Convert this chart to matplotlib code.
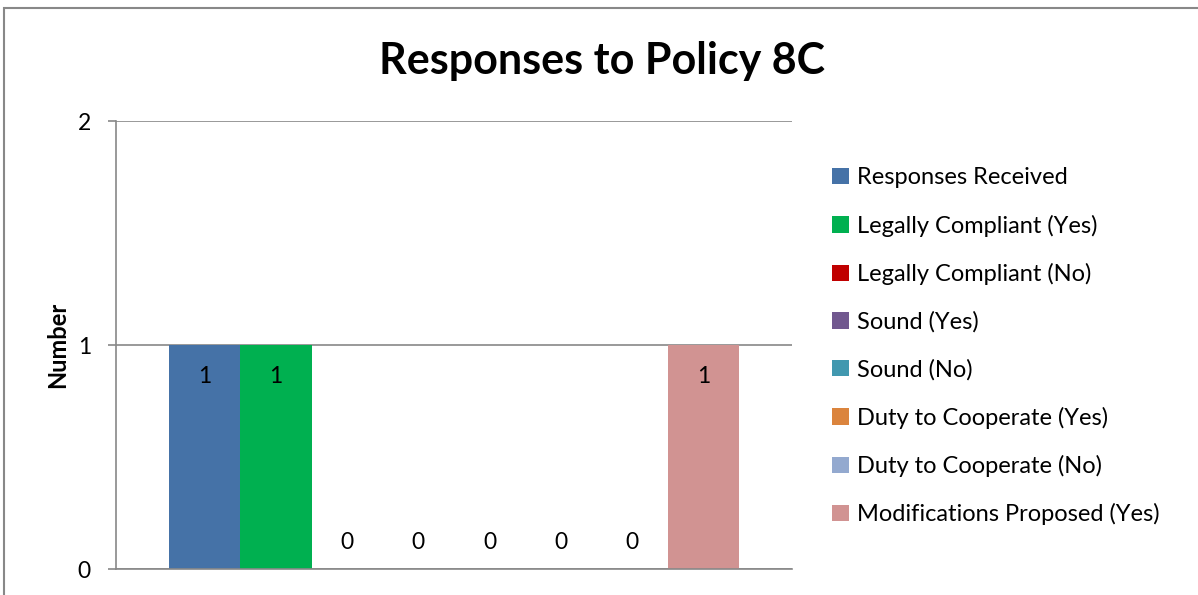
import matplotlib
matplotlib.use("Agg")
import matplotlib.pyplot as plt
from matplotlib.patches import Rectangle

series = ["Responses Received", "Legally Compliant (Yes)", "Legally Compliant (No)",
          "Sound (Yes)", "Sound (No)", "Duty to Cooperate (Yes)",
          "Duty to Cooperate (No)", "Modifications Proposed (Yes)"]
values = [1, 1, 0, 0, 0, 0, 0, 1]
colors = ["#4572A7", "#00B050", "#C00000", "#71588F", "#4198AF", "#DB843D", "#93A9CF", "#D19392"]
yticks = [0, 1, 2]

plt.rcParams['font.family'] = ['Lato', 'DejaVu Sans']

W, H = 1198, 595
fig = plt.figure(figsize=(W / 100, H / 100), dpi=100)
ax = fig.add_axes([116 / W, 1 - 569 / H, (792 - 116) / W, (569 - 121) / H])

n = len(values)
group = 570 / 676
bw = group / n
start = -group / 2
for i, (s, v, c) in enumerate(zip(series, values, colors)):
    x = start + bw * (i + 0.5)
    ax.bar(x, v, width=bw, color=c, label=s, zorder=2)
    off = -23 if v > 0 else 19
    ax.annotate(str(v), xy=(x, v), xytext=(0, off), textcoords='offset points',
                ha='center', va='center', fontsize=16.5, color='black')

ax.set_xlim(-0.5, 0.5)
ax.set_ylim(0, 2)
ax.set_yticks(yticks)
ax.set_yticklabels([str(t) for t in yticks], fontsize=16.5)
ax.set_xticks([])
ax.yaxis.grid(True, color='#888888', linewidth=1.2, zorder=0)
for sp in ['top', 'right']:
    ax.spines[sp].set_visible(False)
ax.spines['left'].set_color('#888888')
ax.spines['bottom'].set_color('#888888')
ax.spines['left'].set_linewidth(1.2)
ax.spines['bottom'].set_linewidth(1.2)
ax.tick_params(axis='y', length=6, width=1.2, color='#888888', pad=12)
ax.set_ylabel("Number", fontsize=17, fontweight='bold', labelpad=6)

fig.text(602 / W, 1 - 61 / H, "Responses to Policy 8C", ha='center', va='center',
         fontsize=31, fontweight='bold')

leg = fig.legend(loc='upper left', bbox_to_anchor=(823 / W, 1 - 158 / H), frameon=False,
                 fontsize=17, handlelength=0.68, handleheight=0.68, handletextpad=0.35,
                 labelspacing=1.11, borderaxespad=0)

fig.add_artist(Rectangle((4 / W, -0.1), 1.2, (1 - 8 / H) + 0.1, transform=fig.transFigure,
                         fill=False, edgecolor='#888888', linewidth=1.5))

fig.savefig("out.png", dpi=100)
